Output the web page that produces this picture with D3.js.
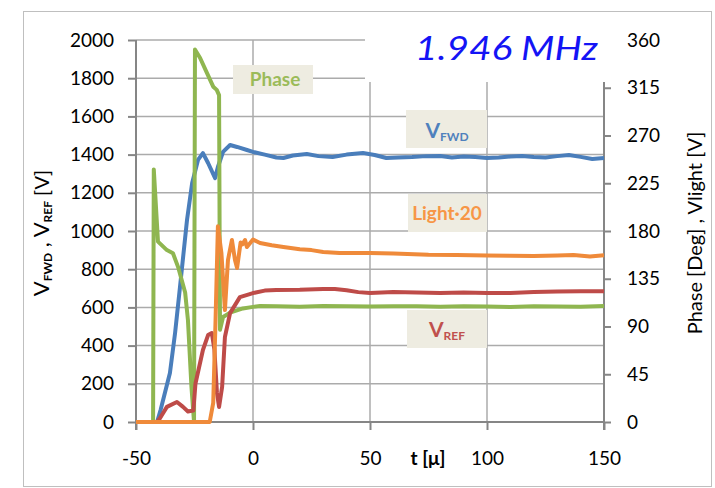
<!DOCTYPE html>
<html>
<head>
<meta charset="utf-8">
<script src="https://cdn.jsdelivr.net/npm/d3@7"></script>
<style>
  body { margin: 0; background: #fff; }
  text { font-family: Lato, "Open Sans", sans-serif; }
</style>
</head>
<body>
<script>
// data
const tFwd = [-50, -41, -39.5, -35.5, -33.3, -31.2, -28.2, -26, -23.5, -21.4, -19.2, -16.2, -15, -12.8, -9.8, -6.8, -2.6,
  0, 5, 10, 13, 17, 23, 28, 34, 40, 47, 52, 57, 62, 68, 74, 80, 85, 90, 95, 100, 105, 110, 115, 120, 125, 130, 135, 140, 145, 150];
const vFwd = [0, 0, 63, 256, 466, 707, 1058, 1251, 1372, 1408, 1356, 1277, 1335, 1414, 1450, 1440, 1424,
  1414, 1400, 1385, 1382, 1395, 1403, 1392, 1387, 1400, 1408, 1398, 1382, 1385, 1387, 1392, 1393, 1385, 1390, 1387, 1382, 1385, 1390, 1393, 1387, 1385, 1392, 1398, 1388, 1377, 1382];

const tRef = [-50, -41, -39.7, -36.8, -32.5, -29.9, -27.8, -25.5, -24.6, -21.4, -19.2, -17.6, -16.5, -15.4, -14.5, -13.2, -12, -9.8, -5.6,
  0, 5, 10, 20, 30, 35, 40, 45, 50, 60, 70, 80, 90, 100, 110, 120, 130, 140, 150];
const vRef = [0, 0, 21, 79, 105, 79, 55, 60, 200, 377, 455, 466, 380, 152, 79, 183, 445, 570, 654,
  675, 688, 691, 692, 696, 696, 690, 680, 675, 680, 678, 676, 678, 675, 675, 680, 683, 685, 685];

const tLight = [-50, -18.5, -17, -16, -15, -13.5, -12, -10.7, -9, -7.7, -6.8, -5.3, -4.5, -3.4, -2.6,
  0, 3, 8, 13, 20, 25, 30, 37, 50, 60, 66, 75, 87, 100, 110, 120, 130, 137, 144, 150];
const vLight = [0, 0, 100, 534, 1025, 885, 586, 848, 953, 848, 806, 940, 930, 953, 916,
  955, 937, 925, 916, 905, 900, 890, 885, 885, 882, 880, 876, 874, 872, 870, 869, 872, 874, 866, 873];

const tPhase = [-50, -42.7, -42.4, -40.6, -36.8, -34.2, -32, -29, -27.8, -26.3, -25.2, -24.8, -22.6, -19.7, -17, -15.5, -14.5, -14.1,
  -12.8, -9.8, -4.3, 0, 3, 10, 20, 30, 40, 50, 60, 70, 80, 90, 100, 110, 120, 130, 140, 150];
const phaseDeg = [0, 0, 238, 170, 162, 159, 146, 122, 96, 33, 0, 351, 343, 329, 316, 313, 308, 87,
  99, 103, 107, 108.5, 109.3, 109, 108.5, 109.3, 109, 108.8, 109, 109, 108.5, 109, 108.8, 108.4, 109, 108.8, 108.5, 109.4];

const xTicks = [-50, 0, 50, 100, 150];
const leftTicks = [0, 200, 400, 600, 800, 1000, 1200, 1400, 1600, 1800, 2000];
const rightTicks = [0, 45, 90, 135, 180, 225, 270, 315, 360];

const width = 715, height = 488;

var svg = d3.select("body").append("svg")
    .attr("width", width)
    .attr("height", height);

svg.append("rect")
    .attr("x", 23.5).attr("y", 11.5)
    .attr("width", 688).attr("height", 475)
    .attr("fill", "#fff")
    .attr("stroke", "#bfbfbf");

const x = d3.scaleLinear().domain([-50, 150]).range([136, 604]);
const yL = d3.scaleLinear().domain([0, 2000]).range([422, 40]);
const yR = d3.scaleLinear().domain([0, 360]).range([422, 40]);

const gridColor = "#ababab", axisColor = "#868686";
const plain = d => String(d);

// grid
svg.append("g").selectAll("line").data(leftTicks.slice(1)).join("line")
    .attr("x1", x(-50)).attr("x2", x(150))
    .attr("y1", d => yL(d)).attr("y2", d => yL(d))
    .attr("stroke", gridColor).attr("stroke-width", 1.5);

svg.append("g").selectAll("line").data(xTicks.slice(1, 4)).join("line")
    .attr("x1", d => x(d)).attr("x2", d => x(d))
    .attr("y1", yL(0)).attr("y2", yL(2000))
    .attr("stroke", gridColor).attr("stroke-width", 1.5);

// left axis
const yAxisL = d3.axisLeft(yL).tickValues(leftTicks).tickFormat(plain).tickSize(8).tickPadding(14);
svg.append("g").attr("transform", `translate(${x(-50)},0)`).call(yAxisL)
    .call(g => g.select(".domain").attr("d", `M0,${yL(2000)}V${yL(0) + 8}`));

// right axis
const yAxisR = d3.axisRight(yR).tickValues(rightTicks).tickFormat(plain).tickSize(7).tickPadding(16);
svg.append("g").attr("transform", `translate(${x(150)},0)`).call(yAxisR)
    .call(g => g.select(".domain").attr("d", `M0,${yR(360)}V${yR(0) + 8}`));

// bottom axis
const xAxis = d3.axisBottom(x).tickValues(xTicks).tickFormat(plain).tickSize(8).tickPadding(22);
svg.append("g").attr("transform", `translate(0,${yL(0)})`).call(xAxis)
    .call(g => g.select(".domain").attr("d", `M${x(-50)},0H${x(150)}`));

svg.selectAll(".tick line").attr("stroke", axisColor).attr("stroke-width", 2);
svg.selectAll(".domain").attr("stroke", axisColor).attr("stroke-width", 2);
svg.selectAll(".tick text").attr("font-size", 19).attr("fill", "#000")
    .attr("font-family", "Lato, sans-serif");

// series
const line = (ts, vs, y) => d3.line().x((d, i) => x(ts[i])).y(d => y(d))(vs);

const series = [
    {t: tFwd, v: vFwd, y: yL, color: "#4a7ebb"},
    {t: tPhase, v: phaseDeg, y: yR, color: "#8fb650"},
    {t: tRef, v: vRef, y: yL, color: "#be4b48"},
    {t: tLight, v: vLight, y: yL, color: "#ef8a3a"}
];

series.forEach(s => {
    svg.append("path")
        .attr("d", line(s.t, s.v, s.y))
        .attr("fill", "none")
        .attr("stroke", s.color)
        .attr("stroke-width", 4)
        .attr("stroke-linejoin", "round");
});

// title box
svg.append("rect")
    .attr("x", 365).attr("y", 12)
    .attr("width", 252).attr("height", 70)
    .attr("fill", "#fff");

svg.append("text")
    .attr("x", 415).attr("y", 60)
    .attr("font-size", 32)
    .attr("font-style", "italic")
    .attr("fill", "#1414f5")
    .attr("textLength", 183)
    .attr("lengthAdjust", "spacingAndGlyphs")
    .text("1.946 MHz");

// labels with boxes
const addBox = (bx, by, bw, bh) => svg.append("rect")
    .attr("x", bx).attr("y", by).attr("width", bw).attr("height", bh)
    .attr("fill", "#eeece1");

addBox(233, 65, 80, 29);
svg.append("text").attr("x", 275).attr("y", 86)
    .attr("text-anchor", "middle").attr("font-size", 19).attr("font-weight", "bold")
    .attr("fill", "#9bbb59").text("Phase");

addBox(406, 110, 81, 38);
const tf = svg.append("text").attr("x", 447).attr("y", 138)
    .attr("text-anchor", "middle").attr("fill", "#4f81bd").attr("font-weight", "bold");
tf.append("tspan").attr("font-size", 21).text("V");
tf.append("tspan").attr("font-size", 12).attr("dy", 3).text("FWD");

addBox(408, 194, 79, 38);
svg.append("text").attr("x", 447).attr("y", 220)
    .attr("text-anchor", "middle").attr("font-size", 19).attr("font-weight", "bold")
    .attr("fill", "#f79646").text("Light·20");

addBox(407, 310, 80, 38);
const tr = svg.append("text").attr("x", 447).attr("y", 337)
    .attr("text-anchor", "middle").attr("fill", "#c0504d").attr("font-weight", "bold");
tr.append("tspan").attr("font-size", 21).text("V");
tr.append("tspan").attr("font-size", 12).attr("dy", 3).text("REF");

// axis titles
const yt = svg.append("text")
    .attr("transform", "translate(49,233) rotate(-90)")
    .attr("text-anchor", "middle").attr("fill", "#000");
yt.append("tspan").attr("font-size", 22).text("V");
yt.append("tspan").attr("font-size", 12).attr("font-weight", "bold").attr("dy", 3).text("FWD");
yt.append("tspan").attr("font-size", 22).attr("dy", -3).text(" , V");
yt.append("tspan").attr("font-size", 12).attr("font-weight", "bold").attr("dy", 3).text("REF");
yt.append("tspan").attr("font-size", 20).attr("dy", -3).text(" [V]");

svg.append("text")
    .attr("transform", "translate(702,233) rotate(-90)")
    .attr("text-anchor", "middle").attr("font-size", 20).attr("fill", "#000")
    .text("Phase [Deg] , Vlight [V]");

svg.append("text")
    .attr("x", 428).attr("y", 465)
    .attr("text-anchor", "middle").attr("font-size", 19).attr("font-weight", "bold")
    .attr("fill", "#000")
    .text("t [μ]");
</script>
</body>
</html>
